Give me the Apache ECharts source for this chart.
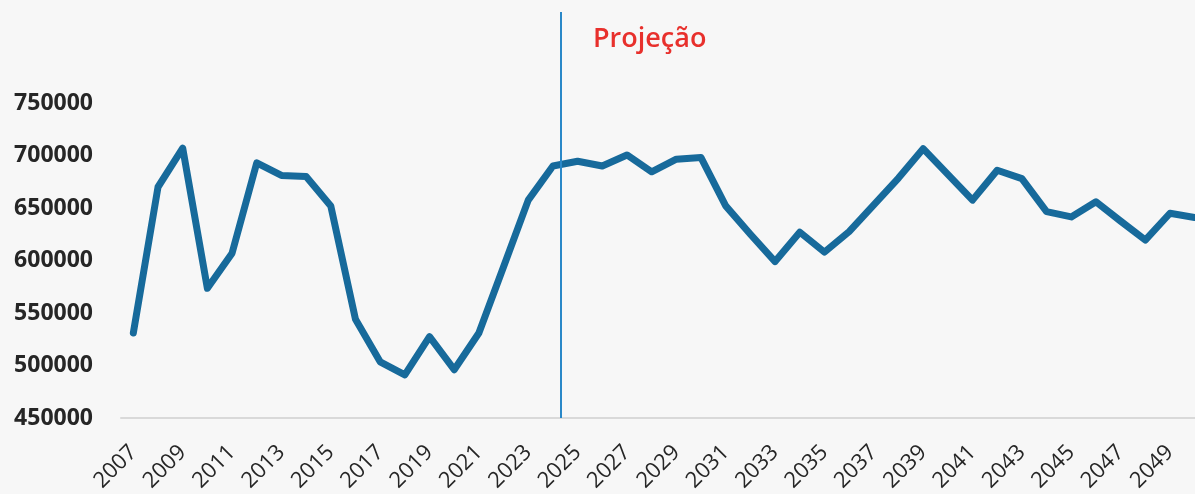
<!DOCTYPE html>
<html>
<head>
<meta charset="utf-8">
<script src="https://cdn.jsdelivr.net/npm/echarts@6/dist/echarts.min.js"></script>
<style>
  html, body { margin: 0; padding: 0; background: #f7f7f7; }
  #chart { width: 1195px; height: 494px; }
</style>
</head>
<body>
<div id="chart"></div>
<script>
// anos (eixo X)
const years = [2007, 2008, 2009, 2010, 2011, 2012, 2013, 2014, 2015, 2016,
  2017, 2018, 2019, 2020, 2021, 2022, 2023, 2024, 2025, 2026,
  2027, 2028, 2029, 2030, 2031, 2032, 2033, 2034, 2035, 2036,
  2037, 2038, 2039, 2040, 2041, 2042, 2043, 2044, 2045, 2046,
  2047, 2048, 2049, 2050];

// valores
const values = [531000, 670000, 707000, 573500, 607000, 693000, 681000, 680000, 652000, 544000,
  503500, 491000, 527500, 496000, 531000, 594000, 657500, 690000, 694500, 690000,
  700500, 684500, 696500, 698000, 652000, 625000, 599000, 627000, 608000, 627500,
  653000, 678500, 706500, 682000, 657500, 686000, 678000, 646500, 641500, 656000,
  637500, 619500, 645000, 641000];

// rótulos dos eixos
const xTicks = [2007, 2009, 2011, 2013, 2015, 2017, 2019, 2021, 2023, 2025,
  2027, 2029, 2031, 2033, 2035, 2037, 2039, 2041, 2043, 2045, 2047, 2049];
const yTicks = [450000, 500000, 550000, 600000, 650000, 700000, 750000];

// início da projeção (linha vertical)
const projectionStart = 2024.33;
const projectionLabel = 'Projeção';

const chart = echarts.init(document.getElementById('chart'));

const option = {
  backgroundColor: '#f7f7f7',
  animation: false,
  textStyle: { fontFamily: '"Open Sans", "Noto Sans", sans-serif' },
  title: {
    text: projectionLabel,
    left: 588,
    top: 21,
    textStyle: {
      color: '#e8302c',
      fontSize: 27,
      fontWeight: 600,
      fontFamily: '"Open Sans", sans-serif'
    }
  },
  grid: {
    left: 121,
    right: -12,
    top: 12,
    bottom: 76,
    outerBoundsMode: 'none'
  },
  xAxis: {
    type: 'value',
    min: 2006.5,
    max: 2050.5,
    axisLine: { show: true, lineStyle: { color: '#d9d9d9', width: 2 } },
    axisTick: { show: false },
    splitLine: { show: false },
    axisLabel: {
      customValues: xTicks,
      rotate: 45,
      margin: 31,
      fontSize: 22,
      color: '#262626',
      formatter: v => String(v)
    }
  },
  yAxis: {
    type: 'value',
    min: 450000,
    max: 836667,
    axisLine: { show: false },
    axisTick: { show: false },
    splitLine: { show: false },
    axisLabel: {
      customValues: yTicks,
      margin: 28,
      fontSize: 23,
      fontWeight: 'bold',
      color: '#262626',
      formatter: v => String(v)
    }
  },
  series: [
    {
      type: 'line',
      data: years.map((y, i) => [y, values[i]]),
      symbol: 'none',
      lineStyle: { color: '#176a9b', width: 7, cap: 'round', join: 'round' },
      markLine: {
        silent: true,
        symbol: 'none',
        label: { show: false },
        lineStyle: { color: '#2a88c8', width: 2, type: 'solid' },
        data: [{ xAxis: projectionStart }]
      }
    }
  ]
};

chart.setOption(option);
</script>
</body>
</html>
